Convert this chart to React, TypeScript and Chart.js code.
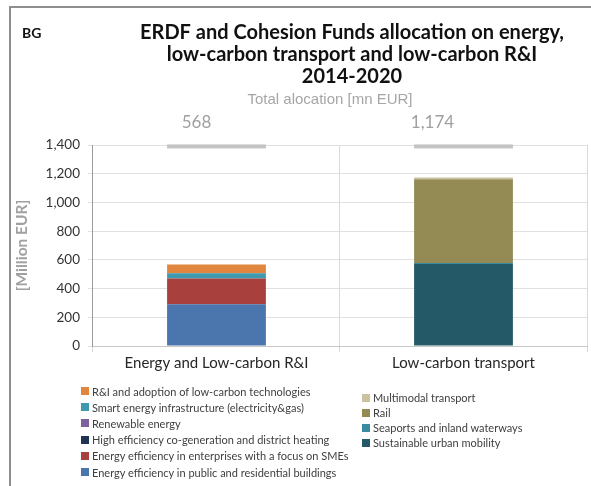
import React, { useEffect, useRef } from "react";
import { Chart, registerables } from "chart.js";

Chart.register(...registerables);

const countryCode = "BG";
const titleLines = [
  "ERDF and Cohesion Funds allocation on energy,",
  "low-carbon transport and low-carbon R&I",
  "2014-2020",
];
const subtitleText = "Total alocation [mn EUR]";
const yAxisTitle = "[Million EUR]";

const categories = ["Energy and Low-carbon R&I", "Low-carbon transport"];
const totals = [568, 1174];
const totalMarkerValue = 1390;
const yMin = 0;
const yMax = 1400;
const yStep = 200;

// Energy and low-carbon R&I series
const energyPublicBuildings = [290, 0];
const energyEnterprisesSMEs = [180, 0];
const highEfficiencyCHP = [0, 0];
const renewableEnergy = [0, 0];
const smartEnergyInfra = [37, 0];
const rdiLowCarbon = [61, 0];
// Low-carbon transport series
const sustainableUrbanMobility = [0, 572];
const seaportsWaterways = [0, 6];
const rail = [0, 583];
const multimodalTransport = [0, 13];

const energySeries = [
  { label: "Energy efficiency in public and residential buildings", data: energyPublicBuildings, color: "#4a76ad" },
  { label: "Energy efficiency in enterprises with a focus on SMEs", data: energyEnterprisesSMEs, color: "#a8403d" },
  { label: "High efficiency co-generation and district heating", data: highEfficiencyCHP, color: "#1e3350" },
  { label: "Renewable energy", data: renewableEnergy, color: "#7e62a0" },
  { label: "Smart energy infrastructure (electricity&gas)", data: smartEnergyInfra, color: "#3f9ab0" },
  { label: "R&I and adoption of low-carbon technologies", data: rdiLowCarbon, color: "#e0863e" },
];
const transportSeries = [
  { label: "Sustainable urban mobility", data: sustainableUrbanMobility, color: "#245a67" },
  { label: "Seaports and inland waterways", data: seaportsWaterways, color: "#3a8aa2" },
  { label: "Rail", data: rail, color: "#948a54" },
  { label: "Multimodal transport", data: multimodalTransport, color: "#c9c3a0" },
];

const BODY_FONT = "Lato, 'DejaVu Sans', sans-serif";

const textPlugin = {
  id: "textPlugin",
  afterDatasetsDraw(chart: any) {
    const ctx = chart.ctx;
    const xs = chart.scales.x;
    const ys = chart.scales.y;
    const meta = chart.getDatasetMeta(0);
    ctx.save();
    const offsets = [-20, -31];
    categories.forEach((_, i) => {
      const el = meta.data[i];
      const cx = xs.getPixelForValue(i);
      const w = el ? el.width : 98;
      const y = ys.getPixelForValue(totalMarkerValue);
      ctx.fillStyle = "#c3c3c3";
      ctx.fillRect(cx - w / 2, y - 2, w, 4);
      ctx.fillStyle = "#a0a0a0";
      ctx.font = "17px " + BODY_FONT;
      ctx.textAlign = "center";
      ctx.textBaseline = "middle";
      ctx.fillText(totals[i].toLocaleString("en-US"), cx + offsets[i], 123);
    });
    ctx.fillStyle = "#111";
    ctx.font = "bold 14px " + BODY_FONT;
    ctx.textAlign = "left";
    ctx.fillText(countryCode, 22, 33);
    ctx.font = "bold 20px " + BODY_FONT;
    ctx.textAlign = "center";
    titleLines.forEach((t, i) => ctx.fillText(t, 352, 33 + i * 22));
    ctx.fillStyle = "#a6a6a6";
    ctx.font = "15px 'Liberation Sans', Arial, sans-serif";
    ctx.fillText(subtitleText, 330, 100);
    ctx.restore();
  },
};

export default function App() {
  const ref = useRef<HTMLCanvasElement>(null);
  useEffect(() => {
    if (!ref.current) return;
    const datasets = [...energySeries, ...transportSeries].map((s) => ({
      label: s.label,
      data: s.data,
      backgroundColor: s.color,
      borderWidth: 0,
      stack: "s",
      categoryPercentage: 1,
      barPercentage: 0.4,
    }));
    const chart = new Chart(ref.current, {
      type: "bar",
      data: { labels: categories, datasets },
      options: {
        animation: false,
        responsive: false,
        locale: "en-US",
        layout: { padding: { top: 145, left: 13, right: 4, bottom: 112 } },
        plugins: { legend: { display: false }, title: { display: false }, tooltip: { enabled: false } },
        scales: {
          x: {
            stacked: true,
            offset: true,
            grid: { offset: true, color: "#d9d9d9", tickLength: 6, drawTicks: true },
            border: { color: "#c8c8c8" },
            ticks: { color: "#262626", font: { family: BODY_FONT, size: 15 }, padding: 2 },
          },
          y: {
            stacked: true,
            min: yMin,
            max: yMax,
            ticks: { stepSize: yStep, color: "#333333", font: { family: BODY_FONT, size: 13.5 }, padding: 8 },
            grid: { color: "#e0e0e0", tickLength: 5, drawTicks: true },
            border: { color: "#9a9a9a" },
            title: {
              display: true,
              text: yAxisTitle,
              color: "#a0a0a0",
              font: { family: BODY_FONT, size: 15.5, weight: "bold" },
              padding: { top: 0, bottom: 6 },
            },
          },
        },
      },
      plugins: [textPlugin],
    });
    return () => chart.destroy();
  }, []);

  const legendItem = (h: number) => (s: { label: string; color: string }) => (
    <div key={s.label} style={{ display: "flex", alignItems: "center", height: h }}>
      <span style={{ display: "inline-block", width: 8, height: 8, background: s.color, marginRight: 3 }} />
      <span>{s.label}</span>
    </div>
  );

  return (
    <div style={{ position: "absolute", left: 0, top: 0, width: 591, height: 486, overflow: "hidden", background: "#fff" }}>
      <canvas ref={ref} width={591} height={486} style={{ position: "absolute", left: 0, top: 0 }} />
      <div style={{ position: "absolute", left: 9, top: 6, width: 600, height: 600, borderTop: "2px solid #8e8e8e", borderLeft: "2px solid #8e8e8e", pointerEvents: "none" }} />
      <div style={{ position: "absolute", left: 81, top: 383, fontFamily: BODY_FONT, fontSize: 11, color: "#404040", whiteSpace: "nowrap" }}>
        {[...energySeries].reverse().map(legendItem(16.2))}
      </div>
      <div style={{ position: "absolute", left: 362, top: 390, fontFamily: BODY_FONT, fontSize: 11, color: "#404040", whiteSpace: "nowrap" }}>
        {[...transportSeries].reverse().map(legendItem(15))}
      </div>
    </div>
  );
}
